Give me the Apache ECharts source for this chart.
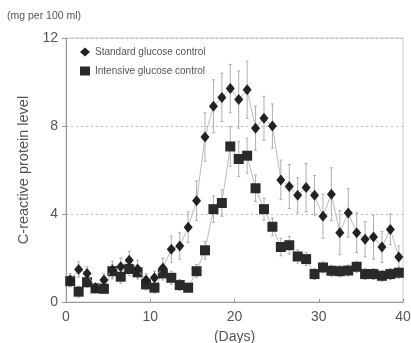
<!DOCTYPE html>
<html>
<head>
<meta charset="utf-8">
<script src="https://cdn.jsdelivr.net/npm/echarts@6/dist/echarts.min.js"></script>
<style>
  html, body { margin: 0; padding: 0; background: #fff; }
  #chart { width: 411px; height: 343px; }
</style>
</head>
<body>
<div id="chart"></div>
<script>
// sampling days
var days = [0.5, 1.5, 2.5, 3.5, 4.5, 5.5, 6.5, 7.5, 8.5, 9.5,
  10.5, 11.5, 12.5, 13.5, 14.5, 15.5, 16.5, 17.5, 18.5, 19.5,
  20.5, 21.5, 22.5, 23.5, 24.5, 25.5, 26.5, 27.5, 28.5, 29.5,
  30.5, 31.5, 32.5, 33.5, 34.5, 35.5, 36.5, 37.5, 38.5, 39.5];

// standard glucose control (mean, error)
var standardVals = [1.0, 1.48, 1.3, 0.65, 1.0, 1.45, 1.6, 1.9, 1.5, 1.0,
  1.1, 1.55, 2.4, 2.55, 3.4, 4.6, 7.5, 8.9, 9.3, 9.7,
  9.2, 9.65, 7.9, 8.35, 8.0, 5.55, 5.25, 4.85, 5.2, 4.85,
  3.9, 4.9, 3.15, 4.05, 3.15, 2.85, 2.95, 2.5, 3.3, 2.05];
var standardErr = [0.3, 0.35, 0.3, 0.2, 0.3, 0.4, 0.4, 0.4, 0.4, 0.3,
  0.3, 0.45, 0.6, 0.6, 0.7, 0.9, 1.1, 1.2, 1.1, 1.1,
  1.3, 1.3, 1.0, 1.0, 1.0, 0.9, 1.0, 0.8, 1.1, 0.9,
  1.0, 1.2, 1.0, 1.1, 0.9, 0.8, 1.0, 0.7, 0.7, 0.5];

// intensive glucose control (mean, error)
var intensiveVals = [0.95, 0.47, 0.9, 0.62, 0.6, 1.4, 1.15, 1.5, 1.35, 0.8,
  0.65, 1.3, 1.1, 0.77, 0.65, 1.4, 2.35, 4.22, 4.5, 7.07,
  6.5, 6.65, 5.17, 4.22, 3.42, 2.5, 2.58, 2.07, 1.95, 1.27,
  1.57, 1.42, 1.4, 1.43, 1.6, 1.27, 1.27, 1.19, 1.27, 1.33];
var intensiveErr = [0.25, 0.25, 0.25, 0.2, 0.2, 0.3, 0.3, 0.3, 0.3, 0.25,
  0.25, 0.3, 0.3, 0.25, 0.2, 0.3, 0.4, 0.6, 0.6, 0.9,
  0.8, 0.8, 0.6, 0.5, 0.4, 0.4, 0.4, 0.3, 0.3, 0.25,
  0.25, 0.25, 0.25, 0.25, 0.25, 0.25, 0.25, 0.25, 0.25, 0.25];

var xTicks = [0, 10, 20, 30, 40];
var yTicks = [0, 4, 8, 12];

function pairs(vals) {
  return vals.map(function (v, i) { return [days[i], v]; });
}
function triples(vals, errs) {
  return vals.map(function (v, i) { return [days[i], v, errs[i]]; });
}

function errorBar(params, api) {
  var x = api.value(0), y = api.value(1), e = api.value(2);
  var top = api.coord([x, y + e]);
  var bot = api.coord([x, y - e]);
  var style = { stroke: '#9a9a9a', lineWidth: 0.8 };
  return {
    type: 'group',
    children: [
      { type: 'line', shape: { x1: top[0], y1: top[1], x2: bot[0], y2: bot[1] }, style: style },
      { type: 'line', shape: { x1: top[0] - 1.5, y1: top[1], x2: top[0] + 1.5, y2: top[1] }, style: style },
      { type: 'line', shape: { x1: bot[0] - 1.5, y1: bot[1], x2: bot[0] + 1.5, y2: bot[1] }, style: style }
    ]
  };
}

var chart = echarts.init(document.getElementById('chart'));
var font = '"Liberation Sans", Arial, sans-serif';

var option = {
  animation: false,
  backgroundColor: '#fff',
  textStyle: { fontFamily: font },
  graphic: [{
    type: 'text',
    left: 7,
    top: 11,
    style: { text: '(mg per 100 ml)', fill: '#555', font: '10.5px ' + font }
  }],
  legend: {
    left: 75,
    top: 42,
    orient: 'vertical',
    itemWidth: 10,
    itemHeight: 9,
    itemGap: 9,
    textStyle: { fontSize: 10, color: '#555' },
    data: [
      { name: 'Standard glucose control', icon: 'diamond' },
      { name: 'Intensive glucose control', icon: 'rect' }
    ]
  },
  grid: {
    left: 66,
    right: 8,
    top: 38,
    bottom: 41,
    outerBoundsMode: 'none',
    show: true,
    borderColor: '#c8c8c8',
    borderWidth: 1
  },
  xAxis: {
    type: 'value',
    min: xTicks[0],
    max: xTicks[xTicks.length - 1],
    interval: 10,
    name: '(Days)',
    nameLocation: 'middle',
    nameGap: 28,
    nameTextStyle: { fontSize: 14, color: '#555' },
    axisLine: { lineStyle: { color: '#999' } },
    axisTick: { inside: true, length: 3, lineStyle: { color: '#999' } },
    axisLabel: { fontSize: 14, color: '#555', margin: 8 },
    splitLine: { show: false }
  },
  yAxis: {
    type: 'value',
    min: yTicks[0],
    max: yTicks[yTicks.length - 1],
    interval: 4,
    name: 'C-reactive protein level',
    nameLocation: 'middle',
    nameGap: 22,
    nameTextStyle: { fontSize: 14.5, color: '#555' },
    axisLine: { show: true, lineStyle: { color: '#999' } },
    axisTick: { show: true, length: 4, lineStyle: { color: '#999' } },
    axisLabel: { fontSize: 14, color: '#555', margin: 8 },
    splitLine: { show: true, lineStyle: { color: '#bbb', type: [2, 3] } }
  },
  series: [
    {
      type: 'custom',
      name: 'stdErr',
      renderItem: errorBar,
      data: triples(standardVals, standardErr),
      z: 1,
      silent: true
    },
    {
      type: 'custom',
      name: 'intErr',
      renderItem: errorBar,
      data: triples(intensiveVals, intensiveErr),
      z: 1,
      silent: true
    },
    {
      type: 'line',
      name: 'Standard glucose control',
      data: pairs(standardVals),
      symbol: 'diamond',
      symbolSize: [9, 11],
      itemStyle: { color: '#222' },
      lineStyle: { color: '#aaa', width: 0.8 },
      z: 3
    },
    {
      type: 'line',
      name: 'Intensive glucose control',
      data: pairs(intensiveVals),
      symbol: 'rect',
      symbolSize: 10,
      itemStyle: { color: '#2a2a2a' },
      lineStyle: { color: '#aaa', width: 0.8 },
      z: 2
    }
  ]
};

chart.setOption(option);
</script>
</body>
</html>
